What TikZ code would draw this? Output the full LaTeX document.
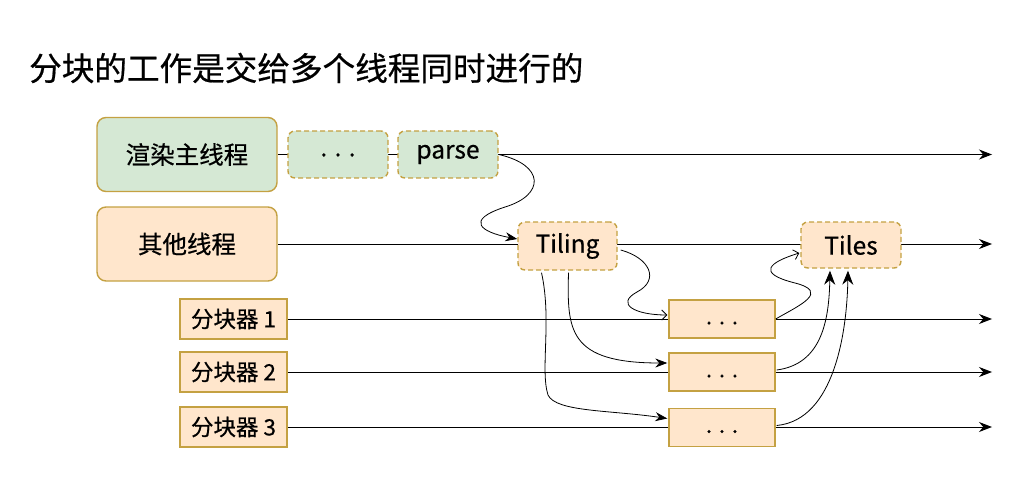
\documentclass[tikz,border=0pt]{standalone}
\usepackage{fontspec}
\setmainfont{Noto Sans CJK SC}[FakeBold=0.6]
\usetikzlibrary{arrows.meta,calc,backgrounds}
\definecolor{gfill}{HTML}{D5E8D4}
\definecolor{ofill}{HTML}{FFE6CC}
\definecolor{gold}{HTML}{C4A142}
\tikzset{
  box/.style={draw=gold,line width=1.4pt,rounded corners=9pt,align=center,inner sep=0pt,font=\fontsize{24.5}{28}\selectfont},
  dbox/.style={box,dashed,dash pattern=on 5pt off 3pt,rounded corners=7pt},
  sbox/.style={draw=gold,line width=1.4pt,inner sep=0pt,font=\fontsize{22.5}{26}\selectfont},
  thread/.style={line width=1pt,-{Stealth[length=13pt,width=10pt]}},
  flow/.style={line width=0.8pt,-{Stealth[length=12pt,width=9pt]}},
  bigflow/.style={line width=0.8pt,-{Stealth[length=14pt,width=11pt]}},
  openflow/.style={line width=0.8pt,-{Straight Barb[length=5pt,width=10pt]}},
}
\begin{document}
\begin{tikzpicture}[x=1pt,y=-1pt]
\useasboundingbox (0,0) rectangle (1034,500);
\node[anchor=west,inner sep=0pt,font=\fontsize{32.6}{38}\selectfont] (title) at (29,68) {分块的工作是交给多个线程同时进行的};

\node[box,fill=gfill,minimum width=180pt,minimum height=74pt] (main) at (187,154.5) {渲染主线程};
\node[dbox,fill=gfill,minimum width=100pt,minimum height=47pt] (dots) at (338,154.5) {\raisebox{-4pt}{. . .}};
\node[dbox,fill=gfill,minimum width=100pt,minimum height=47pt] (parse) at (448,154.5) {parse};

\node[box,fill=ofill,minimum width=180pt,minimum height=74pt] (other) at (187,244) {其他线程};
\node[dbox,fill=ofill,minimum width=99pt,minimum height=48pt] (tiling) at (567.5,246) {Tiling};
\node[dbox,fill=ofill,minimum width=100pt,minimum height=46pt] (tiles) at (851,245) {Tiles};

\node[sbox,fill=ofill,minimum width=107pt,minimum height=40pt] (s1) at (233.5,319) {分块器 1};
\node[sbox,fill=ofill,minimum width=107pt,minimum height=40pt] (s2) at (233.5,372) {分块器 2};
\node[sbox,fill=ofill,minimum width=107pt,minimum height=40pt] (s3) at (233.5,427) {分块器 3};

\node[sbox,fill=ofill,minimum width=106pt,minimum height=38pt] (b1) at (722,319) {\raisebox{-11pt}{. . .}};
\node[sbox,fill=ofill,minimum width=106pt,minimum height=38pt] (b2) at (722,372) {\raisebox{-11pt}{. . .}};
\node[sbox,fill=ofill,minimum width=106pt,minimum height=38pt] (b3) at (722,427.5) {\raisebox{-11pt}{. . .}};

\coordinate (e0) at (992,154.5);
\coordinate (e1) at (992,244);
\coordinate (e2) at (992,319);
\coordinate (e3) at (992,372);
\coordinate (e4) at (992,427);

\begin{scope}[on background layer]
\draw[thread] (main.east) -- (e0);
\draw[thread] (other.east) -- (e1);
\draw[thread] (s1.east) -- (e2);
\draw[thread] (s2.east) -- (e3);
\draw[thread] (s3.east) -- (e4);
\end{scope}

\draw[flow] (parse.east) .. controls (545,165) and (545,195) .. (505,207)
  .. controls (465,220) and (480,232) .. ($(tiling.west)+(0,-7)$);
\draw[openflow] ($(tiling.east)+(3,4)$) .. controls (650,258) and (660,280) .. (637,292)
  .. controls (615,304) and (635,315) .. ($(b1.west)+(-1,-4)$);
\draw[flow] ($(tiling.south)+(1,2)$) .. controls (567,330) and (568,363) .. ($(b2.west)+(-1,-9)$);
\draw[flow] ($(tiling.south)+(-26,2)$) .. controls (552,320) and (540,370) .. (548,395)
  .. controls (556,412) and (610,410) .. ($(b3.west)+(-1,-9)$);
\draw[openflow] (b1.east) .. controls (800,305) and (830,292) .. (795,283)
  .. controls (755,273) and (770,262) .. ($(tiles.west)+(-1,8)$);
\draw[bigflow] ($(b2.east)+(1,-2)$) .. controls (822,364) and (829,320) .. ($(tiles.south)+(-21,2)$);
\draw[bigflow] ($(b3.east)+(1,-2)$) .. controls (835,420) and (847,330) .. ($(tiles.south)+(-3,2)$);
\end{tikzpicture}
\end{document}
